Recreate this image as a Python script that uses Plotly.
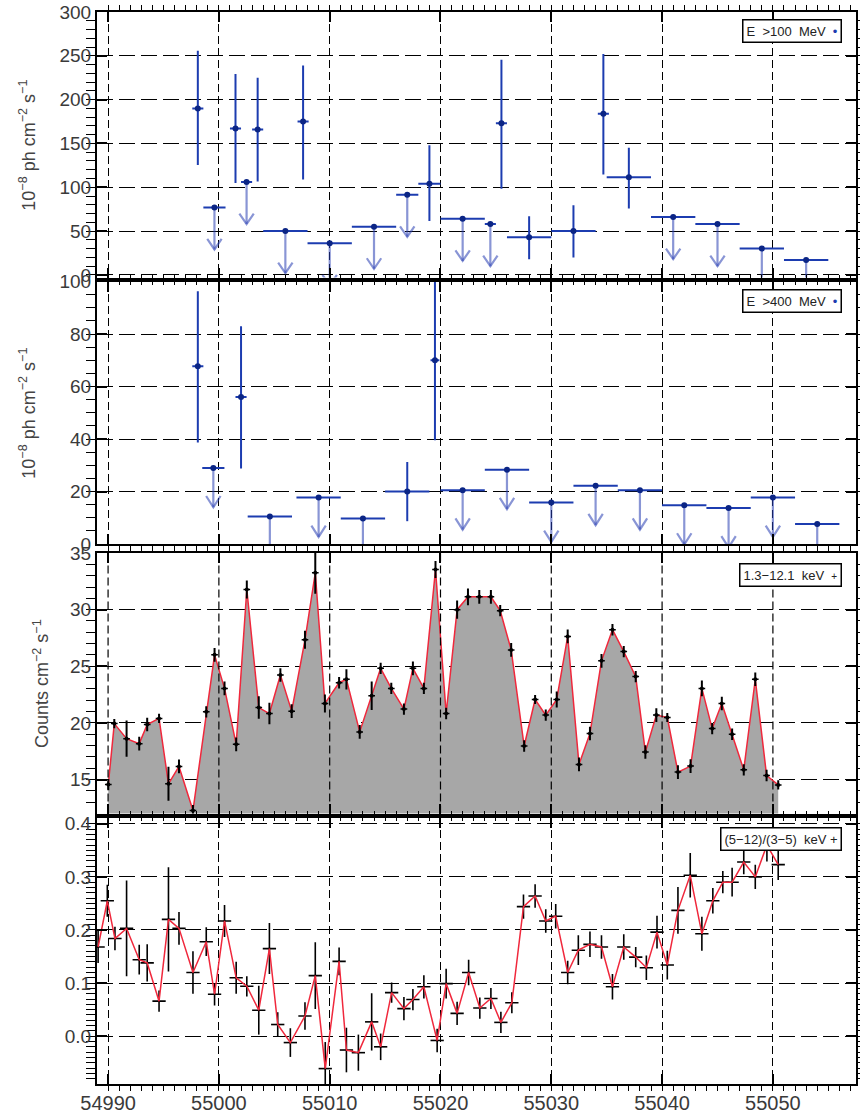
import plotly.graph_objects as go

# ---------------- time axis (MJD) ----------------
x_range = [54989.0, 55057.5]
x_tick_step = 10
x_ticks = [54990, 55000, 55010, 55020, 55030, 55040, 55050]

# ---------------- Fermi-LAT, E > 100 MeV ----------------
lat100_t = [54998.1, 55001.5, 55003.5, 55007.6, 55019.0, 55025.5, 55028.0, 55032.0, 55034.7, 55037.0]
lat100_f = [190.0, 167.0, 166.0, 175.0, 104.0, 173.0, 43.0, 50.0, 184.0, 111.5]
lat100_hi = [65.7, 62.3, 59.0, 64.0, 44.0, 72.4, 24.0, 29.5, 68.0, 33.7]
lat100_lo = [64.5, 62.2, 59.3, 66.0, 42.6, 74.8, 25.0, 30.2, 69.4, 35.8]
lat100_dt = [0.5, 0.5, 0.5, 0.5, 1.0, 0.5, 2.0, 2.0, 0.5, 2.0]

lat100_ul_t = [54999.6, 55002.5, 55006.0, 55010.0, 55014.0, 55017.0, 55022.0, 55024.5, 55041.0, 55045.0, 55049.0, 55053.0]
lat100_ul_f = [77.0, 106.0, 50.0, 36.0, 55.0, 91.5, 64.0, 58.0, 66.0, 58.0, 30.0, 17.0]
lat100_ul_dt = [1.0, 0.5, 2.0, 2.0, 2.0, 1.0, 2.0, 0.5, 2.0, 2.0, 2.0, 2.0]

# ---------------- Fermi-LAT, E > 400 MeV ----------------
lat400_t = [54998.1, 55002.0, 55017.0, 55019.5]
lat400_f = [67.7, 56.0, 20.0, 70.0]
lat400_hi = [28.6, 27.0, 11.2, 40.0]
lat400_lo = [29.0, 27.2, 11.3, 30.5]
lat400_dt = [0.5, 0.5, 2.0, 0.4]

lat400_ul_t = [54999.5, 55004.6, 55009.0, 55013.0, 55022.0, 55026.0, 55030.0, 55034.0, 55038.0, 55042.0, 55046.0, 55050.0, 55054.0]
lat400_ul_f = [29.0, 10.5, 17.7, 9.7, 20.5, 28.3, 15.8, 22.2, 20.5, 14.8, 13.7, 17.7, 7.6]
lat400_ul_dt = [1.0, 2.0, 2.0, 2.0, 2.0, 2.0, 2.0, 2.0, 2.0, 2.0, 2.0, 2.0, 2.0]

# ---------------- X-ray count rate, 1.3-12.1 keV ----------------
xr_t = [54990.02, 54990.56, 54991.67, 54992.81, 54993.53, 54994.60, 54995.45, 54996.40, 54997.66, 54998.86,
        54999.61, 55000.51, 55001.56, 55002.52, 55003.60, 55004.56, 55005.55, 55006.57, 55007.77, 55008.70,
        55009.57, 55010.85, 55011.51, 55012.71, 55013.79, 55014.60, 55015.56, 55016.70, 55017.51, 55018.50,
        55019.55, 55020.51, 55021.50, 55022.48, 55023.50, 55024.55, 55025.39, 55026.38, 55027.55, 55028.54,
        55029.50, 55030.49, 55031.48, 55032.50, 55033.49, 55034.53, 55035.52, 55036.54, 55037.62, 55038.49,
        55039.48, 55040.47, 55041.43, 55042.57, 55043.59, 55044.52, 55045.39, 55046.32, 55047.37, 55048.41,
        55049.43, 55050.48]
xr_rate = [14.56, 19.94, 18.61, 18.17, 19.86, 20.40, 14.62, 16.16, 12.26, 20.98,
           26.01, 23.05, 18.11, 31.78, 21.36, 20.83, 24.23, 21.04, 27.34, 33.26,
           21.72, 23.55, 23.85, 19.21, 22.40, 24.82, 23.05, 21.22, 24.82, 23.05,
           33.55, 20.83, 30.00, 31.13, 31.13, 31.13, 29.91, 26.45, 17.96, 22.07,
           20.69, 22.07, 27.64, 16.34, 19.06, 25.48, 28.23, 26.30, 24.09, 17.43,
           20.69, 20.48, 15.66, 16.19, 23.05, 19.50, 21.72, 19.00, 15.86, 23.85,
           15.36, 14.53]
xr_err = [0.5, 0.4, 1.6, 0.6, 0.6, 0.4, 1.5, 0.6, 0.5, 0.5,
          0.6, 0.6, 0.6, 0.8, 1.0, 0.95, 0.6, 0.6, 0.8, 1.85,
          0.8, 0.5, 0.9, 0.6, 1.25, 0.5, 0.5, 0.5, 0.6, 0.5,
          0.75, 0.5, 0.8, 0.75, 0.6, 0.6, 0.5, 0.6, 0.5, 0.4,
          0.5, 0.7, 0.6, 0.6, 0.6, 0.6, 0.5, 0.5, 0.5, 0.6,
          0.6, 0.4, 0.6, 0.6, 0.7, 0.5, 0.6, 0.5, 0.5, 0.6,
          0.5, 0.4]

# ---------------- hardness ratio (5-12)/(3-5) keV ----------------
hr_t = [54989.10, 54989.93, 54990.62, 54991.67, 54992.81, 54993.53, 54994.60, 54995.45, 54996.40, 54997.66,
        54998.86, 54999.61, 55000.51, 55001.56, 55002.52, 55003.60, 55004.56, 55005.31, 55006.45, 55007.77,
        55008.70, 55009.60, 55010.85, 55011.51, 55012.59, 55013.79, 55014.60, 55015.59, 55016.70, 55017.51,
        55018.50, 55019.70, 55020.51, 55021.50, 55022.54, 55023.55, 55024.55, 55025.45, 55026.44, 55027.49,
        55028.54, 55029.50, 55030.40, 55031.48, 55032.44, 55033.49, 55034.53, 55035.52, 55036.54, 55037.62,
        55038.58, 55039.54, 55040.47, 55041.43, 55042.54, 55043.59, 55044.58, 55045.48, 55046.32, 55047.37,
        55048.41, 55049.46, 55050.48]
hr_val = [0.168, 0.255, 0.184, 0.203, 0.144, 0.138, 0.066, 0.220, 0.203, 0.120,
          0.178, 0.079, 0.217, 0.110, 0.094, 0.049, 0.165, 0.022, -0.012, 0.038,
          0.114, -0.061, 0.141, -0.026, -0.031, 0.027, -0.020, 0.082, 0.052, 0.069,
          0.093, -0.008, 0.099, 0.043, 0.120, 0.053, 0.071, 0.026, 0.063, 0.244,
          0.264, 0.217, 0.226, 0.120, 0.162, 0.173, 0.168, 0.093, 0.168, 0.149,
          0.129, 0.196, 0.134, 0.237, 0.303, 0.193, 0.255, 0.290, 0.290, 0.328,
          0.300, 0.360, 0.323]
hr_err = [0.03, 0.03, 0.022, 0.09, 0.028, 0.035, 0.02, 0.098, 0.031, 0.04,
          0.027, 0.021, 0.03, 0.03, 0.019, 0.046, 0.048, 0.023, 0.027, 0.026,
          0.063, 0.05, 0.026, 0.042, 0.034, 0.054, 0.025, 0.019, 0.022, 0.02,
          0.022, 0.022, 0.028, 0.022, 0.024, 0.02, 0.02, 0.02, 0.02, 0.023,
          0.022, 0.022, 0.023, 0.022, 0.028, 0.024, 0.022, 0.024, 0.024, 0.019,
          0.023, 0.031, 0.027, 0.044, 0.042, 0.032, 0.024, 0.021, 0.027, 0.023,
          0.023, 0.031, 0.029]

# ---------------- y ranges ----------------
y1_range, y2_range, y3_range, y4_range = [-3, 300], [0, 100], [12, 35], [-0.09, 0.41]

# ---------------- styling ----------------
FONT = "Liberation Sans, Arial, Helvetica, sans-serif"
TXT = "#3a3a3a"
BLUE = "#1c3cb0"
NAVY = "#0b2585"
ARROW = "rgba(40,62,178,0.55)"
RED = "#f0283c"
GREY = "#a7a7a7"


def ul_arrows(t, f, length, head_w, head_h):
    """Down-pointing open arrows hanging from each upper limit."""
    xs, ys = [], []
    for ti, fi in zip(t, f):
        tip = fi - length
        xs += [ti, ti, None, ti - head_w, ti, ti + head_w, None]
        ys += [fi, tip, None, tip + head_h, tip, tip + head_h, None]
    return xs, ys


fig = go.Figure()

# ---- panel 1: E > 100 MeV ----
ax, ay = ul_arrows(lat100_ul_t, lat100_ul_f, 48, 0.65, 12)
fig.add_trace(go.Scatter(x=ax, y=ay, mode="lines", line=dict(color=ARROW, width=2.2),
                         xaxis="x", yaxis="y", hoverinfo="skip"))
fig.add_trace(go.Scatter(x=lat100_ul_t, y=lat100_ul_f, mode="markers",
                         marker=dict(color=NAVY, size=6),
                         error_x=dict(type="data", array=lat100_ul_dt, color=BLUE, thickness=2, width=0),
                         xaxis="x", yaxis="y"))
fig.add_trace(go.Scatter(x=lat100_t, y=lat100_f, mode="markers",
                         marker=dict(color=NAVY, size=6),
                         error_x=dict(type="data", array=lat100_dt, color=BLUE, thickness=2, width=0),
                         error_y=dict(type="data", symmetric=False, array=lat100_hi, arrayminus=lat100_lo,
                                      color=BLUE, thickness=2, width=0),
                         xaxis="x", yaxis="y"))

# ---- panel 2: E > 400 MeV ----
ax, ay = ul_arrows(lat400_ul_t, lat400_ul_f, 15, 0.65, 4.3)
fig.add_trace(go.Scatter(x=ax, y=ay, mode="lines", line=dict(color=ARROW, width=2.2),
                         xaxis="x2", yaxis="y2", hoverinfo="skip"))
fig.add_trace(go.Scatter(x=lat400_ul_t, y=lat400_ul_f, mode="markers",
                         marker=dict(color=NAVY, size=6),
                         error_x=dict(type="data", array=lat400_ul_dt, color=BLUE, thickness=2, width=0),
                         xaxis="x2", yaxis="y2"))
fig.add_trace(go.Scatter(x=lat400_t, y=lat400_f, mode="markers",
                         marker=dict(color=NAVY, size=6),
                         error_x=dict(type="data", array=lat400_dt, color=BLUE, thickness=2, width=0),
                         error_y=dict(type="data", symmetric=False, array=lat400_hi, arrayminus=lat400_lo,
                                      color=BLUE, thickness=2, width=0),
                         xaxis="x2", yaxis="y2"))

# ---- panel 3: X-ray light curve (filled) ----
fig.add_trace(go.Scatter(x=xr_t, y=xr_rate, mode="lines", fill="tozeroy", fillcolor=GREY,
                         line=dict(color=RED, width=1.5), xaxis="x3", yaxis="y3"))
# vertical grid drawn over the filled area
gx, gy = [], []
for v in x_ticks:
    gx += [v, v, None]
    gy += [y3_range[0], y3_range[1], None]
fig.add_trace(go.Scatter(x=gx, y=gy, mode="lines", line=dict(color="black", width=1.2, dash="8px,4px"),
                         xaxis="x3", yaxis="y3", hoverinfo="skip"))
fig.add_trace(go.Scatter(x=xr_t, y=xr_rate, mode="markers", marker=dict(color="black", size=4),
                         error_x=dict(type="constant", value=0.3, color="black", thickness=1.5, width=0),
                         error_y=dict(type="data", array=xr_err, color="black", thickness=2, width=0),
                         xaxis="x3", yaxis="y3"))

# ---- panel 4: hardness ratio ----
fig.add_trace(go.Scatter(x=hr_t, y=hr_val, mode="markers", marker=dict(color="black", size=2),
                         error_x=dict(type="constant", value=0.6, color="black", thickness=1.6, width=0),
                         error_y=dict(type="data", array=hr_err, color="black", thickness=1.6, width=0),
                         xaxis="x4", yaxis="y4"))
fig.add_trace(go.Scatter(x=hr_t, y=hr_val, mode="lines", line=dict(color=RED, width=1.5),
                         xaxis="x4", yaxis="y4"))

# ---------------- axes ----------------
def xaxis(anchor, labels, grid=True):
    return dict(anchor=anchor, range=x_range, tick0=x_ticks[0], dtick=x_tick_step,
                showticklabels=labels, tickformat="d",
                ticks="inside", ticklen=10, tickwidth=1.5, tickcolor="black",
                minor=dict(dtick=1, ticklen=5, tickwidth=1.2, tickcolor="black", showgrid=False),
                showline=True, linecolor="black", linewidth=2, mirror="allticks",
                showgrid=grid, gridcolor="black", gridwidth=1.2, griddash="8px,4px",
                zeroline=False, tickfont=dict(family=FONT, size=20, color=TXT))


def yaxis(anchor, dom, rng, dtick, mdtick, fmt=None):
    d = dict(anchor=anchor, domain=dom, range=rng, tick0=0, dtick=dtick,
             ticks="inside", ticklen=10, tickwidth=1.5, tickcolor="black",
             minor=dict(dtick=mdtick, ticklen=9, tickwidth=1.2, tickcolor="black", showgrid=False),
             showline=True, linecolor="black", linewidth=2, mirror="allticks",
             showgrid=True, gridcolor="black", gridwidth=1.2, griddash="16px,6px",
             zeroline=False, tickfont=dict(family=FONT, size=19, color=TXT))
    if fmt:
        d["tickformat"] = fmt
    return d


dom1 = [0.7523, 1.0]
dom2 = [0.5037, 0.7486]
dom3 = [0.2523, 0.4953]
dom4 = [0.0, 0.2477]

fig.update_layout(
    width=860, height=1116,
    margin=dict(l=97, r=2, t=10, b=32),
    paper_bgcolor="white", plot_bgcolor="white",
    showlegend=False,
    font=dict(family=FONT, color=TXT),
    xaxis=xaxis("y", False),
    xaxis2=xaxis("y2", False),
    xaxis3=xaxis("y3", False, grid=False),
    xaxis4=xaxis("y4", True),
    yaxis=yaxis("x", dom1, y1_range, 50, 10),
    yaxis2=yaxis("x2", dom2, y2_range, 20, 5),
    yaxis3=yaxis("x3", dom3, y3_range, 5, 1),
    yaxis4=yaxis("x4", dom4, y4_range, 0.1, 0.01, ".1f"),
)

# ---------------- y-axis titles ----------------
flux_title = "10<sup>−8</sup> ph cm<sup>−2</sup> s<sup>−1</sup>"
rate_title = "Counts cm<sup>−2</sup> s<sup>−1</sup>"
for text, dom, xpos in [(flux_title, dom1, -0.091), (flux_title, dom2, -0.091), (rate_title, dom3, -0.074)]:
    fig.add_annotation(text=text, xref="paper", yref="paper", x=xpos, y=(dom[0] + dom[1]) / 2,
                       textangle=-90, showarrow=False, xanchor="center", yanchor="middle",
                       font=dict(family=FONT, size=18, color="#444444"))

# ---------------- panel labels ----------------
labels = [
    ("x", "y", "E  >100  MeV  <span style='color:#1c3cb0'>•</span>", 0.974),
    ("x2", "y2", "E  >400  MeV  <span style='color:#1c3cb0'>•</span>", 0.97),
    ("x3", "y3", "1.3−12.1  keV  <span style='font-size:10px'>+</span>", 0.962),
    ("x4", "y4", "(5−12)/(3−5)  keV +", 0.966),
]
for xr, yr, text, ytop in labels:
    fig.add_annotation(text=text, xref=xr + " domain", yref=yr + " domain", x=0.982, y=ytop,
                       xanchor="right", yanchor="top", showarrow=False,
                       bgcolor="white", bordercolor="black", borderwidth=1.5, borderpad=3,
                       font=dict(family=FONT, size=13, color="#222222"))

fig.write_html("out.html")
